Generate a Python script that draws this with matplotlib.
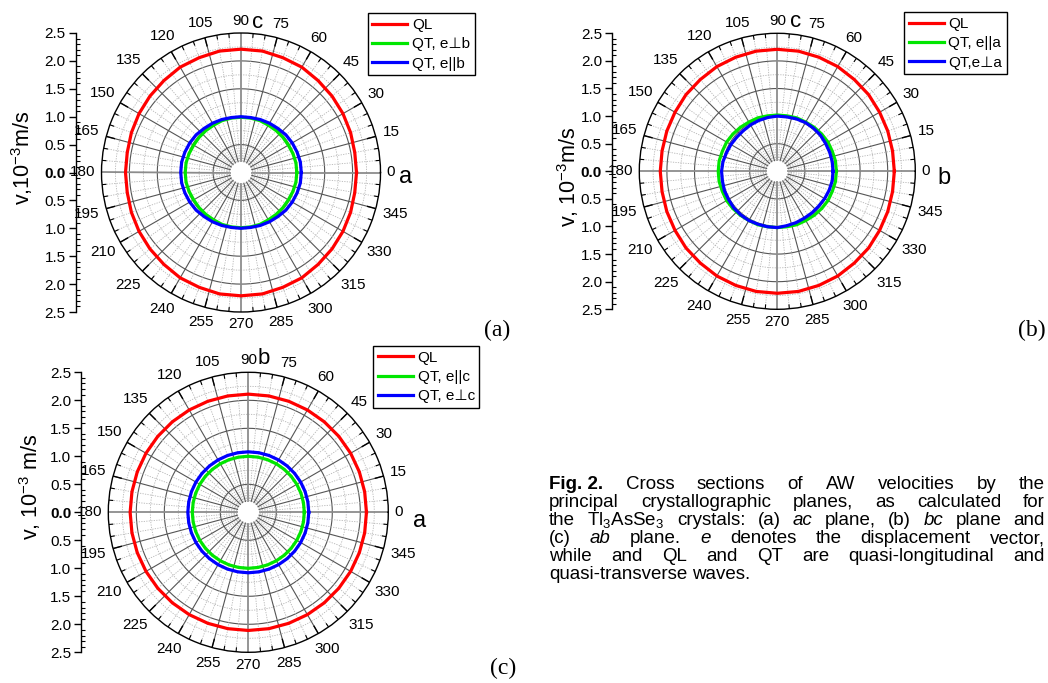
import numpy as np
import matplotlib
matplotlib.use("Agg")
import matplotlib.pyplot as plt
from matplotlib.lines import Line2D
from matplotlib.ticker import MultipleLocator, FuncFormatter

plt.rcParams['font.family'] = ['Liberation Sans', 'DejaVu Sans']
plt.rcParams['mathtext.fontset'] = 'custom'
plt.rcParams['mathtext.rm'] = 'Liberation Sans'
plt.rcParams['mathtext.it'] = 'Liberation Sans:italic'
plt.rcParams['mathtext.default'] = 'regular'

# ---- data: velocity (10^-3 m/s) every 10 degrees, 0..350 ----
angles_deg = list(range(0, 360, 10))

# (a) ac plane
a_ql = [2.07, 2.07, 2.09, 2.11, 2.13, 2.15, 2.18, 2.19, 2.21, 2.21, 2.21, 2.19,
        2.18, 2.15, 2.13, 2.11, 2.09, 2.07, 2.07, 2.07, 2.09, 2.11, 2.13, 2.15,
        2.18, 2.19, 2.21, 2.21, 2.21, 2.19, 2.18, 2.15, 2.13, 2.11, 2.09, 2.07]
a_qt1 = [1.00, 1.00, 0.99, 0.98, 0.98, 0.98, 0.98, 0.99, 0.99, 0.99, 0.99, 0.99,
         0.98, 0.98, 0.98, 0.98, 0.99, 1.00, 1.00, 1.00, 0.99, 0.98, 0.98, 0.98,
         0.98, 0.99, 0.99, 0.99, 0.99, 0.99, 0.98, 0.98, 0.98, 0.98, 0.99, 1.00]
a_qt2 = [1.08, 1.08, 1.07, 1.06, 1.05, 1.03, 1.02, 1.01, 1.00, 1.00, 1.00, 1.01,
         1.02, 1.03, 1.05, 1.06, 1.07, 1.08, 1.08, 1.08, 1.07, 1.06, 1.05, 1.03,
         1.02, 1.01, 1.00, 1.00, 1.00, 1.01, 1.02, 1.03, 1.05, 1.06, 1.07, 1.08]

# (b) bc plane
b_ql = [2.12, 2.12, 2.13, 2.14, 2.16, 2.17, 2.19, 2.20, 2.21, 2.21, 2.21, 2.20,
        2.19, 2.17, 2.16, 2.14, 2.13, 2.12, 2.12, 2.12, 2.13, 2.14, 2.16, 2.17,
        2.19, 2.20, 2.21, 2.21, 2.21, 2.20, 2.19, 2.17, 2.16, 2.14, 2.13, 2.12]
b_qt1 = [1.07, 1.07, 1.06, 1.06, 1.05, 1.04, 1.03, 1.03, 1.02, 1.02, 1.02, 1.03,
         1.03, 1.04, 1.05, 1.06, 1.06, 1.07, 1.07, 1.07, 1.06, 1.06, 1.05, 1.04,
         1.03, 1.03, 1.02, 1.02, 1.02, 1.03, 1.03, 1.04, 1.05, 1.06, 1.06, 1.07]
b_qt2 = [1.01, 1.01, 1.01, 1.01, 1.02, 1.02, 1.02, 1.01, 1.00, 1.00, 0.99, 0.98,
         0.97, 0.96, 0.96, 0.97, 0.98, 1.00, 1.01, 1.01, 1.02, 1.02, 1.03, 1.03,
         1.03, 1.02, 1.02, 1.02, 1.00, 0.99, 0.98, 0.98, 0.98, 0.99, 1.00, 1.01]

# (c) ab plane
c_ql = [2.11, 2.11, 2.11, 2.11, 2.11, 2.11, 2.11, 2.11, 2.11, 2.11, 2.11, 2.11,
        2.11, 2.11, 2.11, 2.11, 2.11, 2.11, 2.11, 2.11, 2.11, 2.11, 2.11, 2.11,
        2.11, 2.11, 2.11, 2.11, 2.11, 2.11, 2.11, 2.11, 2.11, 2.11, 2.11, 2.11]
c_qt1 = [1.00, 1.00, 1.00, 1.00, 1.00, 1.00, 1.00, 1.00, 1.00, 1.00, 1.00, 1.00,
         1.00, 1.00, 1.00, 1.00, 1.00, 1.00, 1.00, 1.00, 1.00, 1.00, 1.00, 1.00,
         1.00, 1.00, 1.00, 1.00, 1.00, 1.00, 1.00, 1.00, 1.00, 1.00, 1.00, 1.00]
c_qt2 = [1.08, 1.08, 1.08, 1.08, 1.08, 1.08, 1.08, 1.08, 1.08, 1.08, 1.08, 1.08,
         1.08, 1.08, 1.08, 1.08, 1.08, 1.08, 1.08, 1.08, 1.08, 1.08, 1.08, 1.08,
         1.08, 1.08, 1.08, 1.08, 1.08, 1.08, 1.08, 1.08, 1.08, 1.08, 1.08, 1.08]

labels_a = ["QL", "QT, e\u22a5b", "QT, e||b"]
labels_b = ["QL", "QT, e||a", "QT,e\u22a5a"]
labels_c = ["QL", "QT, e||c", "QT, e\u22a5c"]

angle_ticks = list(range(0, 360, 15))

W, H = 1048, 683
COLORS = ['#ff0000', '#00e600', '#0000ff']
RMAX = 2.5

fig = plt.figure(figsize=(W / 100, H / 100), dpi=100)


def fx(px):
    return px / W


def fy(py):
    return 1 - py / H


def draw_panel(cx, cy, R, axis_x, series, labels, ylabel, ylab_xy,
               letters, legend_xy, tag, tag_xy):
    ax = fig.add_axes([fx(cx - R), fy(cy + R), 2 * R / W, 2 * R / H],
                      projection='polar')
    ax.set_ylim(0, RMAX)
    ax.set_xticks([])
    ax.set_yticks([])
    ax.grid(False)
    ax.spines['polar'].set_linewidth(1.0)
    ax.spines['polar'].set_color('black')

    # grid circles
    th = np.linspace(0, 2 * np.pi, 721)
    for r in np.arange(0.25, 2.5, 0.25):
        if abs(r / 0.5 - round(r / 0.5)) < 1e-6:
            ax.plot(th, np.full_like(th, r), color='#555555', lw=0.8, zorder=1)
        else:
            ax.plot(th, np.full_like(th, r), color='#b5b5b5', lw=0.6,
                    ls=(0, (1.5, 1.5)), zorder=1)
    # spokes
    for d in range(0, 360, 5):
        t = np.deg2rad(d)
        if d % 90 == 0:
            ax.plot([t, t], [0.2, RMAX], color='#8c8c8c', lw=1.3, zorder=1)
        elif d % 15 == 0:
            ax.plot([t, t], [0.2, RMAX], color='#555555', lw=0.8, zorder=1)
            ax.plot([t, t], [RMAX - 0.15, RMAX], color='black', lw=1.0, zorder=2)
        else:
            ax.plot([t, t], [0.2, RMAX], color='#b5b5b5', lw=0.6,
                    ls=(0, (1.5, 1.5)), zorder=1)
            ax.plot([t, t], [RMAX - 0.07, RMAX], color='black', lw=0.8, zorder=2)

    # data curves
    th_d = np.deg2rad(angles_deg + [360])
    handles = []
    for vals, col in zip(series, COLORS):
        ax.plot(th_d, vals + vals[:1], color=col, lw=2.3, zorder=3)
        handles.append(Line2D([], [], color=col, lw=2.3))

    # angle labels
    fs = 11
    fpx = fs * 100 / 72
    for d in angle_ticks:
        s = str(d)
        t = np.deg2rad(d)
        w = len(s) * 0.556 * fpx
        h = 0.85 * fpx
        half = 0.5 * (abs(np.cos(t)) * w + abs(np.sin(t)) * h)
        rr = RMAX * (R + 6 + half) / R
        ax.text(t, rr, s, fontsize=fs, ha='center', va='center', clip_on=False)

    # left linear axis
    lax = fig.add_axes([fx(axis_x), fy(cy + R), 0.0005, 2 * R / H])
    lax.set_ylim(-RMAX, RMAX)
    for sp in ['right', 'top', 'bottom']:
        lax.spines[sp].set_visible(False)
    lax.spines['left'].set_linewidth(1.0)
    lax.set_xticks([])
    lax.yaxis.set_major_locator(MultipleLocator(0.5))
    lax.yaxis.set_minor_locator(MultipleLocator(0.1))
    lax.yaxis.set_major_formatter(FuncFormatter(lambda v, p: "%.1f" % abs(v)))
    lax.tick_params(axis='y', which='major', direction='out', length=5,
                    width=1.0, labelsize=11, pad=2)
    lax.tick_params(axis='y', which='minor', direction='in', length=3, width=0.8)
    lax.patch.set_visible(False)
    fig.canvas.draw()
    for lab in lax.get_yticklabels():
        if lab.get_text() == "0.0":
            lab.set_fontweight('bold')

    fig.text(fx(ylab_xy[0]), fy(ylab_xy[1]), ylabel, rotation=90, fontsize=15.5,
             ha='center', va='center')
    for s, x, y, f in letters:
        fig.text(fx(x), fy(y), s, fontsize=f, ha='center', va='center')

    leg = ax.legend(handles, labels, loc='upper left',
                    bbox_to_anchor=(fx(legend_xy[0]), fy(legend_xy[1])),
                    bbox_transform=fig.transFigure, borderaxespad=0,
                    fancybox=False, edgecolor='black', framealpha=1,
                    handlelength=2.3, handletextpad=0.3, borderpad=0.3,
                    labelspacing=0.35, fontsize=11)
    leg.get_frame().set_linewidth(1.0)

    fig.text(fx(tag_xy[0]), fy(tag_xy[1]), tag, fontsize=17,
             family='Liberation Serif', ha='center', va='center')


draw_panel(241, 172.5, 139.5, 75.5, [a_ql, a_qt1, a_qt2], labels_a,
           "v,10$^{-3}$m/s", (21.7, 158),
           [("c", 258, 22.7, 16), ("a", 406, 176.7, 17)],
           (367.7, 13.3), "(a)", (497, 330))
draw_panel(777.3, 171.3, 138, 611.7, [b_ql, b_qt1, b_qt2], labels_b,
           "v, 10$^{-3}$m/s", (568.3, 176.7),
           [("c", 795.7, 21.7, 16), ("b", 944.3, 178.3, 17)],
           (904, 12.3), "(b)", (1031.7, 330))
draw_panel(248.3, 512.3, 140, 81, [c_ql, c_qt1, c_qt2], labels_c,
           "v, 10$^{-3}$ m/s", (30, 487),
           [("b", 263.3, 358.3, 16), ("a", 419.3, 521, 17)],
           (373.3, 346), "(c)", (503.3, 668.3))

# ---- caption, justified ----
cap_lines = [
    [("Fig.\u00a02.", 'bold', 'normal'), ("Cross", 'normal', 'normal'),
     ("sections", 'normal', 'normal'), ("of", 'normal', 'normal'),
     ("AW", 'normal', 'normal'), ("velocities", 'normal', 'normal'),
     ("by", 'normal', 'normal'), ("the", 'normal', 'normal')],
    [(w, 'normal', 'normal') for w in
     "principal crystallographic planes, as calculated for".split()],
    [("the", 'normal', 'normal'), ("Tl$_3$AsSe$_3$", 'normal', 'normal'),
     ("crystals:", 'normal', 'normal'), ("(a)", 'normal', 'normal'),
     ("ac", 'normal', 'italic'), ("plane,", 'normal', 'normal'),
     ("(b)", 'normal', 'normal'), ("bc", 'normal', 'italic'),
     ("plane", 'normal', 'normal'), ("and", 'normal', 'normal')],
    [("(c)", 'normal', 'normal'), ("ab", 'normal', 'italic'),
     ("plane.", 'normal', 'normal'), ("e", 'normal', 'italic'),
     ("denotes", 'normal', 'normal'), ("the", 'normal', 'normal'),
     ("displacement", 'normal', 'normal'), ("vector,", 'normal', 'normal')],
    [(w, 'normal', 'normal') for w in
     "while and QL and QT are quasi-longitudinal and".split()],
    [(w, 'normal', 'normal') for w in "quasi-transverse waves.".split()],
]
cap_x0, cap_x1 = 549, 1045
cap_fs = 13.5
cap_y0, cap_dy = 489, 18.0
renderer = fig.canvas.get_renderer()
for i, words in enumerate(cap_lines):
    yb = cap_y0 + i * cap_dy
    arts = []
    for s, wt, st in words:
        t = fig.text(0, fy(yb), s, fontsize=cap_fs, fontweight=wt, fontstyle=st,
                     ha='left', va='baseline')
        arts.append(t)
    widths = [a.get_window_extent(renderer).width for a in arts]
    space = 0.278 * cap_fs * 100 / 72
    if i < len(cap_lines) - 1:
        space = (cap_x1 - cap_x0 - sum(widths)) / (len(arts) - 1)
    x = cap_x0
    for a, w in zip(arts, widths):
        a.set_x(fx(x))
        x += w + space

fig.savefig("out.png", dpi=100)
